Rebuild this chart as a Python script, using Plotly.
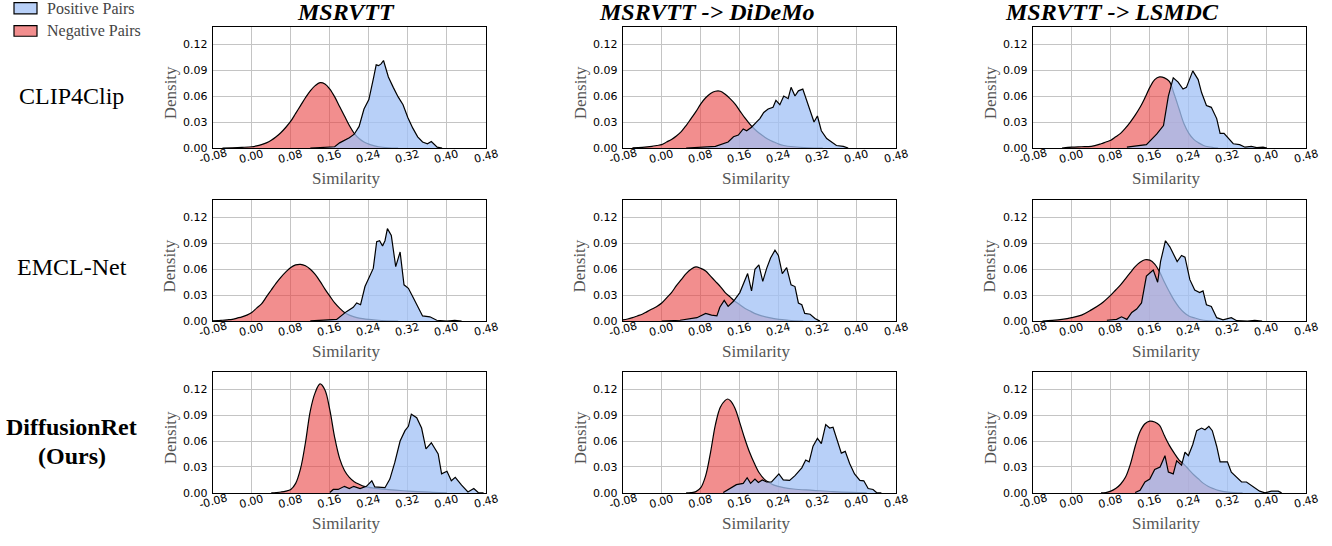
import plotly.graph_objects as go

W, H = 1332, 546

# ---------------- data ----------------
col_titles = ["MSRVTT", "MSRVTT -> DiDeMo", "MSRVTT -> LSMDC"]
row_titles = [["CLIP4Clip"], ["EMCL-Net"], ["<b>DiffusionRet</b>", "<b>(Ours)</b>"]]
legend_labels = ["Positive Pairs", "Negative Pairs"]
x_ticks = [-0.08, 0.00, 0.08, 0.16, 0.24, 0.32, 0.40, 0.48]
x_tick_labels = ["-0.08", "0.00", "0.08", "0.16", "0.24", "0.32", "0.40", "0.48"]
y_ticks = [0.00, 0.03, 0.06, 0.09, 0.12]

# CLIP4Clip / MSRVTT
c4c_msr_neg_x = [-0.06, -0.04, -0.02, 0.00, 0.01, 0.02, 0.03, 0.04, 0.05, 0.06, 0.07, 0.08, 0.09, 0.10, 0.11, 0.12, 0.13, 0.14, 0.15, 0.16, 0.17, 0.18, 0.19, 0.20, 0.21, 0.22, 0.23, 0.24, 0.25, 0.26, 0.28, 0.30]
c4c_msr_neg_y = [0.0, 0.0003, 0.0008, 0.0015, 0.0025, 0.004, 0.006, 0.009, 0.013, 0.018, 0.024, 0.031, 0.040, 0.049, 0.058, 0.066, 0.072, 0.0755, 0.074, 0.068, 0.059, 0.048, 0.037, 0.026, 0.017, 0.011, 0.007, 0.0045, 0.0028, 0.0015, 0.0004, 0.0]
c4c_msr_pos_x = [0.12, 0.14, 0.16, 0.17, 0.18, 0.19, 0.20, 0.21, 0.22, 0.23, 0.24, 0.25, 0.255, 0.26, 0.265, 0.27, 0.28, 0.29, 0.30, 0.31, 0.32, 0.33, 0.34, 0.35, 0.36, 0.368, 0.375, 0.38, 0.39]
c4c_msr_pos_y = [0.0, 0.0003, 0.001, 0.0015, 0.006, 0.009, 0.012, 0.016, 0.025, 0.045, 0.056, 0.082, 0.096, 0.095, 0.097, 0.101, 0.082, 0.070, 0.059, 0.050, 0.035, 0.023, 0.013, 0.007, 0.005, 0.0076, 0.003, 0.001, 0.0]

# CLIP4Clip / DiDeMo
c4c_did_neg_x = [-0.06, -0.04, -0.02, -0.01, 0.00, 0.01, 0.02, 0.03, 0.04, 0.05, 0.06, 0.07, 0.08, 0.09, 0.10, 0.11, 0.12, 0.13, 0.14, 0.15, 0.16, 0.17, 0.18, 0.19, 0.20, 0.21, 0.22, 0.23, 0.24, 0.25, 0.27, 0.30, 0.33]
c4c_did_neg_y = [0.0003, 0.0008, 0.002, 0.003, 0.004, 0.007, 0.010, 0.014, 0.019, 0.026, 0.034, 0.042, 0.051, 0.058, 0.063, 0.0655, 0.0655, 0.062, 0.057, 0.051, 0.043, 0.035, 0.028, 0.022, 0.017, 0.013, 0.0095, 0.007, 0.0045, 0.003, 0.0015, 0.0004, 0.0]
c4c_did_pos_x = [0.05, 0.11, 0.136, 0.147, 0.157, 0.167, 0.174, 0.184, 0.194, 0.201, 0.209, 0.218, 0.228, 0.234, 0.242, 0.25, 0.259, 0.265, 0.273, 0.28, 0.289, 0.297, 0.304, 0.312, 0.319, 0.327, 0.338, 0.348, 0.358, 0.372, 0.382]
c4c_did_pos_y = [0.0, 0.002, 0.007, 0.013, 0.015, 0.022, 0.020, 0.024, 0.030, 0.034, 0.041, 0.045, 0.047, 0.055, 0.050, 0.060, 0.057, 0.070, 0.060, 0.066, 0.068, 0.055, 0.045, 0.030, 0.037, 0.020, 0.011, 0.007, 0.003, 0.002, 0.0]

# CLIP4Clip / LSMDC
c4c_lsm_neg_x = [-0.02, 0.00, 0.02, 0.04, 0.06, 0.07, 0.08, 0.09, 0.10, 0.11, 0.12, 0.13, 0.14, 0.15, 0.16, 0.17, 0.18, 0.19, 0.20, 0.21, 0.22, 0.23, 0.24, 0.25, 0.26, 0.27, 0.28, 0.30]
c4c_lsm_neg_y = [0.0, 0.001, 0.0015, 0.002, 0.005, 0.007, 0.009, 0.013, 0.017, 0.023, 0.030, 0.038, 0.047, 0.058, 0.070, 0.079, 0.082, 0.081, 0.077, 0.062, 0.045, 0.028, 0.017, 0.010, 0.006, 0.003, 0.0015, 0.0]
c4c_lsm_pos_x = [0.113, 0.153, 0.174, 0.188, 0.198, 0.208, 0.218, 0.228, 0.235, 0.248, 0.259, 0.266, 0.276, 0.286, 0.297, 0.304, 0.312, 0.321, 0.331, 0.344, 0.355, 0.368, 0.379, 0.392, 0.40]
c4c_lsm_pos_y = [0.001, 0.004, 0.016, 0.026, 0.060, 0.081, 0.076, 0.068, 0.070, 0.089, 0.079, 0.064, 0.049, 0.047, 0.034, 0.017, 0.017, 0.011, 0.005, 0.004, 0.001, 0.002, 0.0005, 0.001, 0.0]

# EMCL-Net / MSRVTT
emc_msr_neg_x = [-0.08, -0.07, -0.06, -0.05, -0.04, -0.03, -0.02, -0.01, 0.00, 0.01, 0.02, 0.03, 0.04, 0.05, 0.06, 0.07, 0.08, 0.09, 0.10, 0.11, 0.12, 0.13, 0.14, 0.15, 0.16, 0.17, 0.18, 0.19, 0.20, 0.21, 0.22, 0.24, 0.26, 0.30]
emc_msr_neg_y = [0.0003, 0.0005, 0.001, 0.0015, 0.002, 0.0035, 0.005, 0.007, 0.010, 0.015, 0.020, 0.028, 0.036, 0.044, 0.051, 0.057, 0.062, 0.065, 0.0657, 0.064, 0.060, 0.054, 0.046, 0.037, 0.029, 0.021, 0.015, 0.010, 0.007, 0.005, 0.0035, 0.002, 0.001, 0.0]
emc_msr_pos_x = [0.12, 0.174, 0.194, 0.208, 0.215, 0.223, 0.232, 0.242, 0.249, 0.256, 0.262, 0.268, 0.273, 0.278, 0.286, 0.295, 0.304, 0.312, 0.321, 0.331, 0.341, 0.35, 0.365, 0.379, 0.40, 0.416, 0.43]
emc_msr_pos_y = [0.0002, 0.002, 0.011, 0.016, 0.021, 0.019, 0.040, 0.052, 0.061, 0.092, 0.093, 0.087, 0.093, 0.107, 0.099, 0.063, 0.080, 0.042, 0.038, 0.027, 0.016, 0.006, 0.005, 0.001, 0.0, 0.0008, 0.0]

# EMCL-Net / DiDeMo
emc_did_neg_x = [-0.08, -0.07, -0.06, -0.05, -0.04, -0.03, -0.02, -0.01, 0.00, 0.01, 0.02, 0.03, 0.04, 0.05, 0.06, 0.07, 0.08, 0.09, 0.10, 0.11, 0.12, 0.13, 0.14, 0.15, 0.16, 0.17, 0.18, 0.19, 0.20, 0.22, 0.24, 0.26, 0.29]
emc_did_neg_y = [0.0015, 0.0025, 0.004, 0.006, 0.008, 0.011, 0.014, 0.017, 0.021, 0.027, 0.033, 0.041, 0.048, 0.055, 0.060, 0.0627, 0.061, 0.058, 0.052, 0.046, 0.040, 0.033, 0.028, 0.023, 0.019, 0.015, 0.012, 0.009, 0.007, 0.004, 0.002, 0.001, 0.0]
emc_did_pos_x = [0.0, 0.0375, 0.072, 0.09, 0.102, 0.113, 0.119, 0.128, 0.136, 0.147, 0.16, 0.167, 0.176, 0.184, 0.191, 0.199, 0.207, 0.215, 0.223, 0.232, 0.239, 0.247, 0.256, 0.265, 0.273, 0.28, 0.287, 0.293, 0.304, 0.314, 0.324]
emc_did_pos_y = [0.0, 0.001, 0.004, 0.009, 0.007, 0.006, 0.016, 0.024, 0.017, 0.023, 0.033, 0.043, 0.055, 0.035, 0.060, 0.065, 0.046, 0.061, 0.073, 0.082, 0.076, 0.055, 0.062, 0.042, 0.040, 0.021, 0.019, 0.009, 0.008, 0.003, 0.0]

# EMCL-Net / LSMDC
emc_lsm_neg_x = [-0.06, -0.04, -0.02, 0.00, 0.02, 0.04, 0.06, 0.08, 0.09, 0.10, 0.11, 0.12, 0.13, 0.14, 0.15, 0.16, 0.17, 0.18, 0.19, 0.20, 0.21, 0.22, 0.23, 0.24, 0.25, 0.27, 0.30]
emc_lsm_neg_y = [0.0, 0.0008, 0.002, 0.004, 0.007, 0.013, 0.020, 0.030, 0.036, 0.042, 0.049, 0.056, 0.063, 0.068, 0.071, 0.0705, 0.066, 0.057, 0.045, 0.034, 0.024, 0.016, 0.010, 0.006, 0.004, 0.001, 0.0]
emc_lsm_pos_x = [0.072, 0.092, 0.102, 0.113, 0.123, 0.133, 0.143, 0.153, 0.167, 0.176, 0.182, 0.192, 0.201, 0.216, 0.225, 0.232, 0.242, 0.252, 0.262, 0.269, 0.276, 0.286, 0.297, 0.31, 0.327, 0.338, 0.36, 0.375, 0.39]
emc_lsm_pos_y = [0.001, 0.002, 0.005, 0.002, 0.010, 0.014, 0.021, 0.052, 0.059, 0.045, 0.069, 0.093, 0.086, 0.069, 0.076, 0.074, 0.048, 0.036, 0.033, 0.035, 0.019, 0.017, 0.004, 0.0015, 0.004, 0.0005, 0.0, 0.0008, 0.0]

# DiffusionRet / MSRVTT
dif_msr_neg_x = [0.04, 0.05, 0.06, 0.07, 0.08, 0.09, 0.10, 0.11, 0.12, 0.13, 0.14, 0.15, 0.16, 0.17, 0.18, 0.19, 0.20, 0.21, 0.22, 0.23, 0.25, 0.28, 0.31, 0.34, 0.37, 0.40]
dif_msr_neg_y = [0.0, 0.0004, 0.001, 0.002, 0.004, 0.011, 0.028, 0.058, 0.095, 0.116, 0.126, 0.119, 0.096, 0.064, 0.040, 0.026, 0.018, 0.013, 0.010, 0.0075, 0.0055, 0.0038, 0.0025, 0.0015, 0.0007, 0.0]
dif_msr_pos_x = [0.16, 0.167, 0.177, 0.19, 0.20, 0.209, 0.222, 0.235, 0.246, 0.252, 0.273, 0.283, 0.293, 0.304, 0.314, 0.321, 0.327, 0.338, 0.348, 0.357, 0.368, 0.382, 0.389, 0.40, 0.409, 0.417, 0.43, 0.443, 0.455, 0.464, 0.475]
dif_msr_pos_y = [0.0004, 0.004, 0.004, 0.0076, 0.005, 0.0076, 0.005, 0.0076, 0.014, 0.007, 0.006, 0.016, 0.035, 0.060, 0.072, 0.077, 0.091, 0.087, 0.075, 0.051, 0.058, 0.045, 0.022, 0.025, 0.014, 0.018, 0.009, 0.001, 0.005, 0.0004, 0.0]

# DiffusionRet / DiDeMo
dif_did_neg_x = [0.05, 0.06, 0.07, 0.08, 0.09, 0.10, 0.11, 0.12, 0.13, 0.135, 0.14, 0.15, 0.16, 0.17, 0.18, 0.19, 0.20, 0.21, 0.22, 0.23, 0.25, 0.27, 0.31, 0.35, 0.39, 0.42]
dif_did_neg_y = [0.0, 0.0003, 0.0015, 0.006, 0.020, 0.047, 0.079, 0.099, 0.107, 0.1086, 0.107, 0.098, 0.081, 0.063, 0.047, 0.034, 0.023, 0.016, 0.012, 0.009, 0.006, 0.0045, 0.003, 0.0015, 0.0005, 0.0]
dif_did_pos_x = [0.126, 0.14, 0.153, 0.167, 0.175, 0.182, 0.191, 0.198, 0.206, 0.215, 0.225, 0.24, 0.249, 0.262, 0.273, 0.287, 0.295, 0.302, 0.31, 0.319, 0.327, 0.336, 0.344, 0.351, 0.36, 0.368, 0.376, 0.385, 0.395, 0.406, 0.414, 0.423, 0.433, 0.44, 0.45]
dif_did_pos_y = [0.0004, 0.005, 0.0095, 0.011, 0.0175, 0.011, 0.016, 0.012, 0.015, 0.0126, 0.0126, 0.022, 0.015, 0.0145, 0.020, 0.029, 0.038, 0.036, 0.054, 0.063, 0.057, 0.079, 0.075, 0.076, 0.060, 0.046, 0.048, 0.034, 0.022, 0.0145, 0.014, 0.005, 0.004, 0.0004, 0.0]

# DiffusionRet / LSMDC
dif_lsm_neg_x = [0.06, 0.07, 0.08, 0.09, 0.10, 0.11, 0.12, 0.13, 0.14, 0.15, 0.16, 0.17, 0.18, 0.19, 0.20, 0.21, 0.22, 0.23, 0.24, 0.25, 0.26, 0.27, 0.28, 0.29, 0.30, 0.32, 0.35]
dif_lsm_neg_y = [0.0, 0.0004, 0.002, 0.005, 0.010, 0.018, 0.033, 0.054, 0.071, 0.080, 0.083, 0.082, 0.078, 0.066, 0.055, 0.046, 0.038, 0.033, 0.027, 0.021, 0.016, 0.011, 0.0075, 0.005, 0.003, 0.001, 0.0]
dif_lsm_pos_x = [0.13, 0.14, 0.15, 0.16, 0.17, 0.181, 0.191, 0.198, 0.208, 0.215, 0.225, 0.232, 0.239, 0.248, 0.256, 0.266, 0.273, 0.281, 0.288, 0.297, 0.304, 0.319, 0.327, 0.338, 0.348, 0.358, 0.372, 0.385, 0.396, 0.409, 0.423, 0.43]
dif_lsm_pos_y = [0.0004, 0.003, 0.0126, 0.016, 0.027, 0.030, 0.043, 0.024, 0.022, 0.037, 0.032, 0.047, 0.043, 0.056, 0.072, 0.075, 0.073, 0.077, 0.072, 0.054, 0.036, 0.036, 0.024, 0.018, 0.0126, 0.0126, 0.007, 0.002, 0.0, 0.002, 0.002, 0.0]

panels = [
    [(c4c_msr_neg_x, c4c_msr_neg_y, c4c_msr_pos_x, c4c_msr_pos_y),
     (c4c_did_neg_x, c4c_did_neg_y, c4c_did_pos_x, c4c_did_pos_y),
     (c4c_lsm_neg_x, c4c_lsm_neg_y, c4c_lsm_pos_x, c4c_lsm_pos_y)],
    [(emc_msr_neg_x, emc_msr_neg_y, emc_msr_pos_x, emc_msr_pos_y),
     (emc_did_neg_x, emc_did_neg_y, emc_did_pos_x, emc_did_pos_y),
     (emc_lsm_neg_x, emc_lsm_neg_y, emc_lsm_pos_x, emc_lsm_pos_y)],
    [(dif_msr_neg_x, dif_msr_neg_y, dif_msr_pos_x, dif_msr_pos_y),
     (dif_did_neg_x, dif_did_neg_y, dif_did_pos_x, dif_did_pos_y),
     (dif_lsm_neg_x, dif_lsm_neg_y, dif_lsm_pos_x, dif_lsm_pos_y)],
]

# ---------------- layout geometry (pixels) ----------------
col_px = [(212.7, 486.0), (622.7, 896.0), (1032.7, 1306.0)]
row_px = [(27.0, 150.0), (202.7, 325.3), (376.7, 499.3)]
col_title_x = [345.5, 707.0, 1112.0]
row_title_y = [[97], [270], [433, 462]]

NEG_FILL = "rgba(233,67,67,0.60)"
POS_FILL = "rgba(163,194,246,0.77)"
SERIF = "Liberation Serif"
SANS = "DejaVu Sans"

def px2fx(x):
    return x / W

def px2fy(y):
    return 1 - y / H

fig = go.Figure()
annotations = []
shapes = []
layout_axes = {}

for r in range(3):
    for c in range(3):
        i = r * 3 + c + 1
        xa = "x" if i == 1 else f"x{i}"
        ya = "y" if i == 1 else f"y{i}"
        nx, ny, ppx, ppy = panels[r][c]
        fig.add_trace(go.Scatter(x=nx, y=ny, mode="lines", fill="tozeroy",
                                 fillcolor=NEG_FILL,
                                 line=dict(color="black", width=1.2, shape="spline", smoothing=1.0),
                                 xaxis=xa, yaxis=ya, showlegend=False, hoverinfo="skip"))
        fig.add_trace(go.Scatter(x=ppx, y=ppy, mode="lines", fill="tozeroy",
                                 fillcolor=POS_FILL, line=dict(color="black", width=1.2),
                                 xaxis=xa, yaxis=ya, showlegend=False, hoverinfo="skip"))
        x0, x1 = col_px[c]
        y0, y1 = row_px[r]
        axis_common = dict(showline=True, linecolor="black", linewidth=1, mirror=True,
                           showgrid=True, gridcolor="#c4c4c4", gridwidth=1, zeroline=False,
                           ticks="", fixedrange=True)
        layout_axes["xaxis" if i == 1 else f"xaxis{i}"] = dict(
            domain=[px2fx(x0), px2fx(x1)], range=[-0.08, 0.48], tickvals=x_ticks,
            showticklabels=False, anchor=ya, **axis_common)
        layout_axes["yaxis" if i == 1 else f"yaxis{i}"] = dict(
            domain=[px2fy(y1), px2fy(y0)], range=[0, 0.14], tickvals=y_ticks,
            tickformat=".2f", tickfont=dict(family=SANS, size=11, color="black"),
            ticklabelstandoff=2, anchor=xa, **axis_common)
        # rotated x tick labels centred under each tick
        for tv, tl in zip(x_ticks, x_tick_labels):
            annotations.append(dict(x=tv, xref=xa, y=px2fy(y1 + 8.5), yref="paper",
                                    text=tl, showarrow=False, textangle=-15,
                                    xanchor="center", yanchor="middle",
                                    font=dict(family=SANS, size=11, color="black")))
        # axis titles
        annotations.append(dict(x=px2fx((x0 + x1) / 2 - 3), xref="paper", y=px2fy(y1 + 31), yref="paper",
                                text="Similarity", showarrow=False, xanchor="center", yanchor="middle",
                                font=dict(family=SERIF, size=17, color="#555555")))
        annotations.append(dict(x=px2fx(x0 - 42.7), xref="paper", y=px2fy((y0 + y1) / 2 + 6), yref="paper",
                                text="Density", showarrow=False, textangle=-90, xanchor="center", yanchor="middle",
                                font=dict(family=SERIF, size=17, color="#555555")))

# column titles
for c in range(3):
    annotations.append(dict(x=px2fx(col_title_x[c]), xref="paper", y=px2fy(12), yref="paper",
                            text=f"<b><i>{col_titles[c]}</i></b>", showarrow=False,
                            xanchor="center", yanchor="middle",
                            font=dict(family=SERIF, size=24, color="black")))

# row titles
for r in range(3):
    for line_text, ly in zip(row_titles[r], row_title_y[r]):
        annotations.append(dict(x=px2fx(71.5), xref="paper", y=px2fy(ly), yref="paper",
                                text=line_text, showarrow=False, xanchor="center", yanchor="middle",
                                font=dict(family=SERIF, size=24, color="black")))

# legend (top-left)
legend_fills = [POS_FILL, NEG_FILL]
legend_y = [(2.7, 14.0), (26.0, 36.7)]
for k in range(2):
    ya0, ya1 = legend_y[k]
    shapes.append(dict(type="rect", xref="paper", yref="paper",
                       x0=px2fx(14), x1=px2fx(37), y0=px2fy(ya1), y1=px2fy(ya0),
                       fillcolor=legend_fills[k], line=dict(color="black", width=1.2)))
    annotations.append(dict(x=px2fx(45), xref="paper", y=px2fy((ya0 + ya1) / 2), yref="paper",
                            text=legend_labels[k], showarrow=False, xanchor="left", yanchor="middle",
                            font=dict(family=SERIF, size=16, color="#444444")))

fig.update_layout(width=W, height=H, margin=dict(l=0, r=0, t=0, b=0),
                  paper_bgcolor="white", plot_bgcolor="white",
                  annotations=annotations, shapes=shapes, **layout_axes)

fig.write_html("out.html", config={"displayModeBar": False},
               post_script="document.body.style.margin='0';document.body.style.padding='0';document.body.style.overflow='hidden';")
